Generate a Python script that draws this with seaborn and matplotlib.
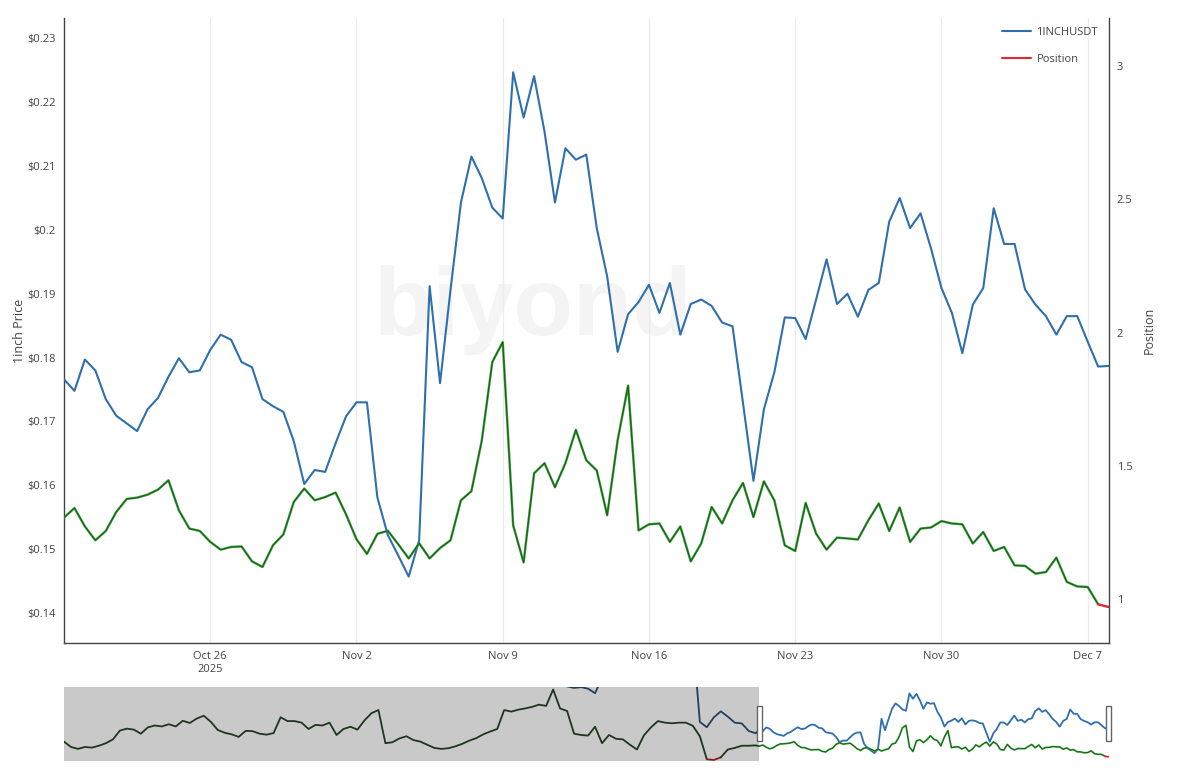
import numpy as np
import pandas as pd
import seaborn as sns
import matplotlib
matplotlib.use("Agg")
import matplotlib.pyplot as plt
import matplotlib.dates as mdates
from matplotlib.lines import Line2D
from matplotlib.patches import Rectangle

# 1INCHUSDT close, every 12 hours from Oct 19 2025
price = [0.1766, 0.1748, 0.1797, 0.1780, 0.1735, 0.1709, 0.1697, 0.1685, 0.1719, 0.1737,
         0.1770, 0.1799, 0.1777, 0.1780, 0.1812, 0.1836, 0.1828, 0.1793, 0.1785, 0.1735,
         0.1724, 0.1715, 0.1669, 0.1602, 0.1624, 0.1621, 0.1666, 0.1708, 0.1730, 0.1730,
         0.1581, 0.1522, 0.1490, 0.1457, 0.1514, 0.1912, 0.1760, 0.1906, 0.2043, 0.2115,
         0.2081, 0.2035, 0.2018, 0.2247, 0.2176, 0.2241, 0.2154, 0.2043, 0.2128, 0.2110,
         0.2118, 0.2003, 0.1927, 0.1809, 0.1868, 0.1887, 0.1914, 0.1870, 0.1917, 0.1836,
         0.1884, 0.1891, 0.1881, 0.1855, 0.1849, 0.1729, 0.1607, 0.1719, 0.1777, 0.1863,
         0.1862, 0.1829, 0.1891, 0.1954, 0.1884, 0.1900, 0.1864, 0.1906, 0.1917, 0.2013,
         0.2050, 0.2003, 0.2026, 0.1971, 0.1909, 0.1870, 0.1807, 0.1883, 0.1909, 0.2034,
         0.1978, 0.1978, 0.1907, 0.1883, 0.1865, 0.1836, 0.1865, 0.1865, 0.1825, 0.1786,
         0.1787]

# position, same timestamps
position = [1.306, 1.342, 1.273, 1.221, 1.256, 1.327, 1.376, 1.381, 1.392, 1.411,
            1.446, 1.333, 1.265, 1.256, 1.215, 1.186, 1.196, 1.198, 1.142, 1.121,
            1.202, 1.243, 1.365, 1.415, 1.371, 1.383, 1.400, 1.318, 1.225, 1.170,
            1.245, 1.257, 1.206, 1.153, 1.210, 1.153, 1.192, 1.221, 1.371, 1.405,
            1.596, 1.889, 1.964, 1.277, 1.138, 1.472, 1.510, 1.420, 1.510, 1.635,
            1.521, 1.483, 1.315, 1.596, 1.801, 1.258, 1.281, 1.284, 1.215, 1.273,
            1.142, 1.209, 1.346, 1.284, 1.371, 1.436, 1.308, 1.442, 1.371, 1.202,
            1.181, 1.361, 1.246, 1.186, 1.231, 1.228, 1.224, 1.296, 1.359, 1.256,
            1.344, 1.215, 1.265, 1.269, 1.293, 1.284, 1.281, 1.209, 1.252, 1.181,
            1.196, 1.127, 1.125, 1.096, 1.102, 1.156, 1.065, 1.048, 1.046, 0.981,
            0.971]

# earlier history (daily), only visible in the range slider; nan = above the slider's range
nan = np.nan
hist_price = [nan] * 71 + [0.245, 0.234, 0.232, 0.233, 0.231, 0.225, 0.245] + [nan] * 12 + \
             [0.300, 0.187, 0.180, 0.193, 0.201, 0.194, 0.186, 0.185, 0.175, 0.172]
hist_position = [1.449, 1.28, 1.22, 1.28, 1.26, 1.32, 1.40, 1.52, 1.80, 1.86,
                 1.83, 1.70, 1.90, 1.96, 1.93, 2.00, 1.93, 2.11, 2.04, 2.18,
                 2.27, 2.08, 1.82, 1.73, 1.68, 1.60, 1.79, 1.78, 1.70, 1.67,
                 1.72, 2.22, 2.10, 2.10, 2.05, 1.85, 1.98, 1.96, 2.05, 1.66,
                 1.85, 1.92, 1.83, 2.12, 2.35, 2.45, 1.40, 1.43, 1.55, 1.62,
                 1.50, 1.45, 1.35, 1.25, 1.22, 1.24, 1.30, 1.38, 1.48, 1.56,
                 1.68, 1.77, 1.85, 2.45, 2.40, 2.46, 2.50, 2.55, 2.62, 2.58,
                 3.10, 2.50, 2.42, 1.70, 1.66, 1.64, 1.92, 1.40, 1.66, 1.54,
                 1.52, 1.35, 1.20, 1.65, 1.90, 2.10, 2.05, 2.03, 2.05, 2.05,
                 1.95, 1.62, 0.89, 0.87, 0.95, 1.20, 1.25, 1.32, 1.32, 1.33]

price_ticks = [0.14, 0.15, 0.16, 0.17, 0.18, 0.19, 0.20, 0.21, 0.22, 0.23]
price_tick_labels = ["$0.14", "$0.15", "$0.16", "$0.17", "$0.18", "$0.19", "$0.2", "$0.21", "$0.22", "$0.23"]
pos_ticks = [1, 1.5, 2, 2.5, 3]
pos_tick_labels = ["1", "1.5", "2", "2.5", "3"]
date_ticks = ["2025-10-26", "2025-11-02", "2025-11-09", "2025-11-16", "2025-11-23", "2025-11-30", "2025-12-07"]
date_tick_labels = ["Oct 26\n2025", "Nov 2", "Nov 9", "Nov 16", "Nov 23", "Nov 30", "Dec 7"]

dates = pd.date_range("2025-10-19", periods=len(price), freq="12h")
hist_dates = pd.date_range("2025-07-11 12:00", periods=len(hist_price), freq="D")

BLUE = "#2f6fad"
GREEN = "#2e9b2e"
DARK_GREEN = "#1c401c"
RED = "#e0282e"
TEXT = "#444444"

sns.set_theme(style="white")
plt.rcParams["font.family"] = ["Open Sans", "DejaVu Sans"]


def draw_position(ax, x, y, green, red, lw, center=None):
    # split into runs: a segment is red when its mean is under 1
    x = list(x)
    y = np.asarray(y, float)
    seg_red = (y[:-1] + y[1:]) / 2 < 1
    start = 0
    n = len(seg_red)
    for k in range(1, n + 1):
        if k == n or seg_red[k] != seg_red[start]:
            xs = x[start:k + 1]
            ys = y[start:k + 1]
            if seg_red[start]:
                ax.plot(xs, ys, color=red, lw=lw, solid_capstyle="round")
            else:
                ax.plot(xs, ys, color=green, lw=lw, solid_capstyle="round", solid_joinstyle="round")
                if center:
                    ax.plot(xs, ys, color=center, lw=lw * 0.28, solid_joinstyle="round")
            start = k


fig = plt.figure(figsize=(12, 7.8), dpi=100)
fig.patch.set_facecolor("white")

# main chart
ax = fig.add_axes([64 / 1200, 137 / 780, 1044.6 / 1200, 625 / 780])
ax2 = ax.twinx()

df = pd.DataFrame({"date": dates, "price": price, "position": position})
sns.lineplot(data=df, x="date", y="price", ax=ax, color=BLUE, lw=1.5, zorder=3)
draw_position(ax2, dates, position, GREEN, RED, 1.7, center=DARK_GREEN)

ax.set_xlim(dates[0], dates[-1])
ax.set_ylim(0.1353, 0.2332)
ax2.set_ylim(0.836, 3.179)

ax.set_yticks(price_ticks)
ax.set_yticklabels(price_tick_labels)
ax2.set_yticks(pos_ticks)
ax2.set_yticklabels(pos_tick_labels)
ax.set_xticks(pd.to_datetime(date_ticks))
ax.set_xticklabels(date_tick_labels)

ax.grid(axis="x", color="#ebebeb", lw=1)
ax.grid(axis="y", visible=False)
ax2.grid(False)
ax.set_axisbelow(True)

for a in (ax, ax2):
    a.tick_params(length=0, labelsize=8, colors=TEXT, pad=6)
    for s in a.spines.values():
        s.set_visible(False)
ax.spines["left"].set_visible(True)
ax.spines["bottom"].set_visible(True)
ax2.spines["right"].set_visible(True)
for s in (ax.spines["left"], ax.spines["bottom"], ax2.spines["right"]):
    s.set_color(TEXT)
    s.set_linewidth(1)

ax.set_xlabel("")
ax.set_ylabel("1inch Price", fontsize=9, color=TEXT)
ax.yaxis.set_label_coords(-0.036, 0.5)
ax2.set_ylabel("Position", fontsize=9, color=TEXT)
ax2.yaxis.set_label_coords(1.033, 0.5)

ax.text(533 / 1200, 1 - 310 / 780, "biyond", transform=fig.transFigure, ha="center", va="center",
        fontsize=70, fontweight="bold", family="Liberation Sans", color="#f4f4f4", zorder=0)

handles = [Line2D([], [], color=BLUE, lw=1.5), Line2D([], [], color=RED, lw=1.5)]
fig.legend(handles, ["1INCHUSDT", "Position"], loc="upper left",
           bbox_to_anchor=(1002 / 1200, 1 - 27 / 780), frameon=False, fontsize=8,
           handlelength=2.6, handletextpad=0.5, labelspacing=1.45, borderaxespad=0, borderpad=0,
           labelcolor=TEXT)

# range slider
sax = fig.add_axes([64 / 1200, 19 / 780, 1044.6 / 1200, 74 / 780])
sax2 = sax.twinx()
sax.set_xlim(hist_dates[0], dates[-1])
sax.set_ylim(ax.get_ylim())
sax2.set_ylim(ax2.get_ylim())
sax.axvspan(hist_dates[0], dates[0], color="#c9c9c9", lw=0, zorder=0)

hx = list(hist_dates) + [dates[0]]
sax.plot(hx, hist_price + [price[0]], color="#243f5c", lw=1.3, zorder=2)
sax.plot(dates, price, color=BLUE, lw=1.3, zorder=2)
draw_position(sax2, hx, hist_position + [position[0]], "#1e361e", "#8a1e22", 1.3)
draw_position(sax2, dates, position, GREEN, RED, 1.3, center=DARK_GREEN)

w = 5 / 6.98
for d in (dates[0], dates[-1]):
    x0 = mdates.date2num(d) - w / 2
    sax2.add_patch(Rectangle((x0, 0.27), w, 0.48, transform=sax2.get_xaxis_transform(),
                             facecolor="white", edgecolor="#666666", lw=1, zorder=5, clip_on=False))

for a in (sax, sax2):
    a.set_xticks([])
    a.set_yticks([])
    a.grid(False)
    a.set_xlabel("")
    a.set_ylabel("")
    for s in a.spines.values():
        s.set_visible(False)

fig.savefig("out.png", dpi=100)
